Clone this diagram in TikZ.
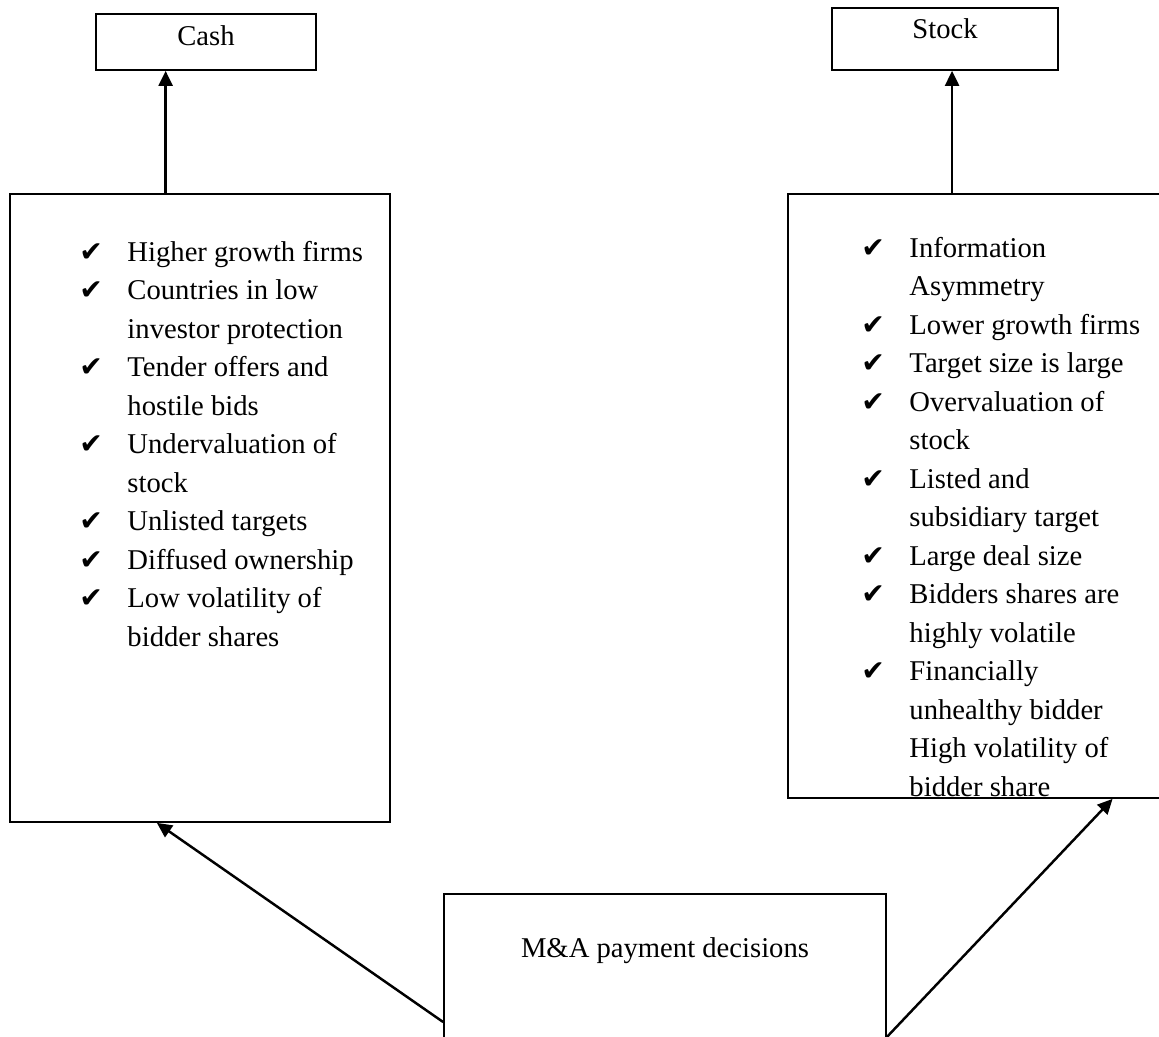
\documentclass[tikz,border=0pt]{standalone}
\usepackage{fontspec}
\setmainfont{Liberation Serif}
\newfontfamily\tickfont{DejaVu Sans}
\usetikzlibrary{arrows.meta, positioning, calc}
\newcommand{\tickmark}{\makebox[0.96cm][l]{\fontsize{16}{16}\tickfont ✔}}
\newcommand{\tickgap}{\hspace*{0.96cm}}

\begin{document}
\begin{tikzpicture}[
    box/.style={draw=black, line width=1pt, fill=white, inner sep=0pt, font=\fontsize{16.3}{21.9}\selectfont},
    reasons/.style={align=left, inner sep=0pt, font=\fontsize{16.3}{21.9}\selectfont},
    arrow/.style={-{Triangle[length=3mm, width=2.8mm]}, line width=1.4pt}
]
    \useasboundingbox (0,0) rectangle (23.18,20.72);
    \clip (0,0) rectangle (23.18,20.72);

    \node[box, minimum width=4.4cm, minimum height=1.12cm, text depth=0.24cm] (cash) at (4.12,19.88) {Cash};
    \node[box, minimum width=4.52cm, minimum height=1.24cm, text depth=0.4cm] (stock) at (18.9,19.94) {Stock};

    \node[box, minimum width=7.6cm, minimum height=12.56cm] (cashreasons) at (4.0,10.56) {};
    \node[box, minimum width=7.64cm, minimum height=12.08cm] (stockreasons) at (19.58,10.8) {};

    \node[reasons, below right=0.82cm and 1.4cm of cashreasons.north west] (cashlist) {%
        \strut\tickmark Higher growth firms\\
        \tickmark Countries in low\\
        \tickgap investor protection\\
        \tickmark Tender offers and\\
        \tickgap hostile bids\\
        \tickmark Undervaluation of\\
        \tickgap stock\\
        \tickmark Unlisted targets\\
        \tickmark Diffused ownership\\
        \tickmark Low volatility of\\
        \tickgap bidder shares};

    \node[reasons, below right=0.74cm and 1.48cm of stockreasons.north west] (stocklist) {%
        \strut\tickmark Information\\
        \tickgap Asymmetry\\
        \tickmark Lower growth firms\\
        \tickmark Target size is large\\
        \tickmark Overvaluation of\\
        \tickgap stock\\
        \tickmark Listed and\\
        \tickgap subsidiary target\\
        \tickmark Large deal size\\
        \tickmark Bidders shares are\\
        \tickgap highly volatile\\
        \tickmark Financially\\
        \tickgap unhealthy bidder\\
        \tickgap High volatility of\\
        \tickgap bidder share};

    \node[box, minimum width=8.84cm, minimum height=5.12cm, text depth=2.96cm] (decision) at (13.3,0.28) {M\&A payment decisions};

    \coordinate (cashup) at ($(cash.south west)!0.318!(cash.south east)$);
    \coordinate (stockup) at ($(stock.south west)!0.531!(stock.south east)$);
    \coordinate (cashin) at ($(cashreasons.south west)!0.387!(cashreasons.south east)$);
    \coordinate (stockin) at ($(stockreasons.south west)!0.848!(stockreasons.south east)$);
    \coordinate (stockout) at ([yshift=-0.3cm]decision.east);

    \draw[arrow] (cashreasons.north -| cashup) -- (cashup);
    \draw[arrow] (stockreasons.north -| stockup) -- (stockup);
    \draw[arrow] (decision.west) -- (cashin);
    \draw[arrow] (stockout) -- (stockin);
\end{tikzpicture}
\end{document}
